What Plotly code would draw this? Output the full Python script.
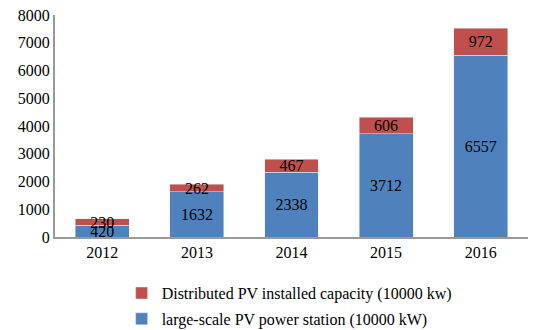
import plotly.graph_objects as go

years = ["2012", "2013", "2014", "2015", "2016"]
large_scale = [420, 1632, 2338, 3712, 6557]
distributed = [230, 262, 467, 606, 972]
y_ticks = [0, 1000, 2000, 3000, 4000, 5000, 6000, 7000, 8000]

font_family = "Liberation Serif, DejaVu Serif, serif"

fig = go.Figure()
fig.add_trace(go.Bar(
    x=years, y=large_scale, name="large-scale PV power station (10000 kW)",
    marker=dict(color="#4F81BD"), text=[str(v) for v in large_scale],
    textposition="inside", insidetextanchor="middle",
    textfont=dict(color="black", size=16, family=font_family),
    constraintext="none", legendgroup="a", legendrank=2,
))
fig.add_trace(go.Bar(
    x=years, y=distributed, name="Distributed PV installed capacity (10000 kw)",
    marker=dict(color="#C0504D"), text=[str(v) for v in distributed],
    textposition="inside", insidetextanchor="middle",
    textfont=dict(color="black", size=16, family=font_family),
    constraintext="none", legendgroup="b", legendrank=1,
))

fig.update_layout(
    barmode="stack",
    bargap=0.43,
    width=550, height=330,
    margin=dict(l=55, r=22, t=15, b=93, autoexpand=False),
    plot_bgcolor="white", paper_bgcolor="white",
    font=dict(family=font_family, size=16, color="black"),
    uniformtext=dict(minsize=16, mode="show"),
    showlegend=True,
    legend=dict(orientation="v", x=0.495, xanchor="center", y=-0.176, yanchor="top",
                traceorder="grouped", font=dict(size=16, family=font_family),
                itemwidth=30, tracegroupgap=2, bgcolor="rgba(0,0,0,0)"),
    xaxis=dict(showline=True, linecolor="#999999", linewidth=2, ticks="",
               tickfont=dict(size=16)),
    yaxis=dict(range=[0, 8000], tickvals=y_ticks, showgrid=False, showline=True,
               linecolor="#999999", linewidth=2, ticks="", zeroline=False,
               tickfont=dict(size=16)),
)

fig.write_html("out.html", config={"displayModeBar": False},
               post_script="document.body.style.margin='0';")
